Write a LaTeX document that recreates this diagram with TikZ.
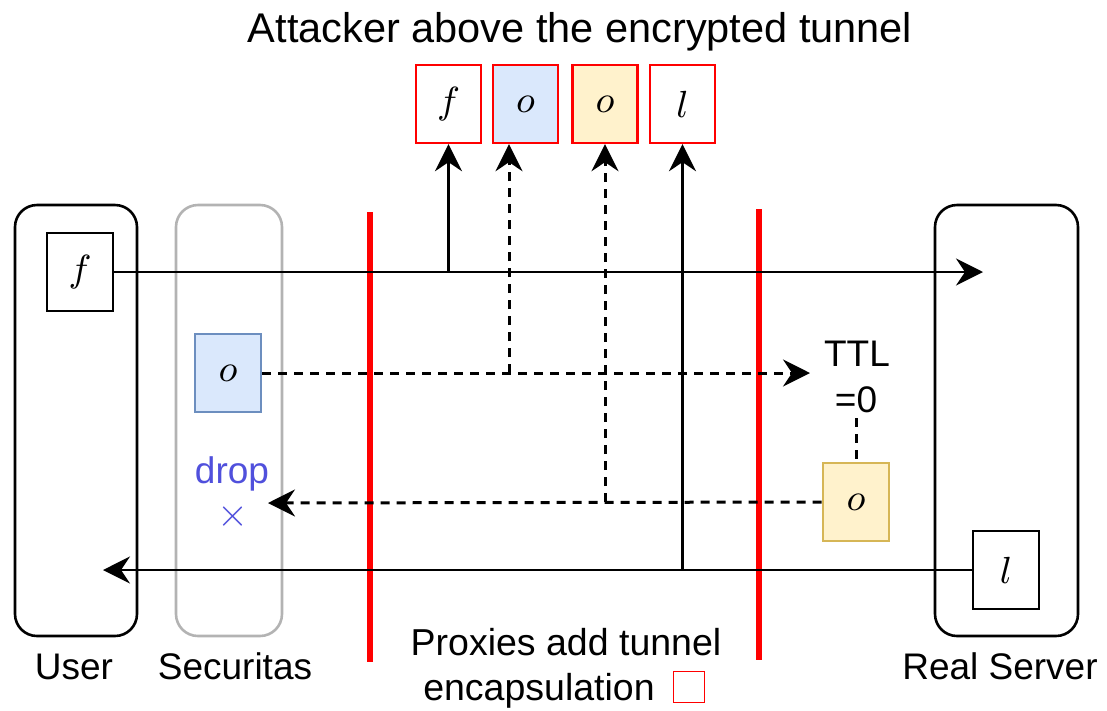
\documentclass[tikz,border=0pt]{standalone}
\usepackage{graphicx}
\usepackage{fontspec}
\setmainfont{Liberation Sans}
\usetikzlibrary{arrows.meta}
\definecolor{blueFill}{HTML}{DAE8FC}
\definecolor{blueLine}{HTML}{6C8EBF}
\definecolor{yelFill}{HTML}{FFF2CC}
\definecolor{yelLine}{HTML}{D6B656}
\definecolor{grayLine}{HTML}{B3B3B3}
\definecolor{dropBlue}{HTML}{5050DC}
\definecolor{tunRed}{HTML}{FF0000}
\newcommand{\pkm}[1]{\scalebox{4.2}{$#1$}}
\tikzset{
  lbl/.style={font=\fontsize{37}{44}\selectfont, anchor=base, inner sep=0pt},
  pkt/.style={draw=black, line width=2.6pt, minimum width=66pt, minimum height=78pt, inner sep=0pt, fill=white, font=\fontsize{9}{11}\selectfont},
  tpkt/.style={pkt, draw=tunRed, line width=2.4pt, minimum width=65pt},
  hostbox/.style={draw=black, line width=2.6pt, rounded corners=22pt},
  conn/.style={line width=2.6pt, -{Stealth[length=27pt,width=27pt,inset=9pt]}},
  plain/.style={line width=2.6pt},
  dsh/.style={dash pattern=on 9pt off 7pt, line width=3pt},
  tunnel/.style={draw=tunRed, line width=5.5pt}
}
\begin{document}
\begin{tikzpicture}[x=1pt,y=-1pt]
\useasboundingbox (0,0) rectangle (1107,710);
% host boxes
\draw[hostbox] (15,205) rectangle (137,636);
\draw[hostbox, draw=grayLine] (176,205) rectangle (282,636);
\draw[hostbox] (935,205) rectangle (1078,636);
% tunnel boundaries
\draw[tunnel] (370,212) -- (370,662);
\draw[tunnel] (759,209) -- (759,660);
% title
\node[lbl, font=\fontsize{41.5}{48}\selectfont] (title) at (580,42) {Attacker above the encrypted tunnel};
% packets
\node[pkt] (uf) at (80,272) {\pkm{f}};
\node[pkt, fill=blueFill, draw=blueLine] (so) at (228,373) {\pkm{o}};
\node[pkt, fill=yelFill, draw=yelLine] (yo) at (856,502) {\pkm{o}};
\node[pkt] (sl) at (1006,570) {\pkm{l}};
\node[tpkt] (tf) at (448.5,104) {\pkm{f}};
\node[tpkt, fill=blueFill] (tbo) at (525.5,104) {\pkm{o}};
\node[tpkt, fill=yelFill] (tyo) at (605,104) {\pkm{o}};
\node[tpkt] (tl) at (682.5,104) {\pkm{l}};
% texts
\node[lbl] (user) at (74,679) {User};
\node[lbl] (sec) at (235,679) {Securitas};
\node[lbl] (srv) at (1000,679) {Real Server};
\node[lbl] (ttl1) at (857,366) {TTL};
\node[lbl] (ttl2) at (856,412) {=0};
\node[lbl, text=dropBlue] (drop) at (232,483) {drop};
\node[text=dropBlue, inner sep=0pt, font=\fontsize{24.88}{30}\selectfont] (cross) at (233,517) {\scalebox{1.6}{$\times$}};
\node[lbl, font=\fontsize{37.5}{44}\selectfont] (prox1) at (566,655) {Proxies add tunnel};
\node[lbl, font=\fontsize{37.5}{44}\selectfont] (prox2) at (539,700) {encapsulation};
\node[draw=tunRed, line width=1.3pt, minimum width=31pt, minimum height=31pt, inner sep=0pt] (sq) at (689,687) {};
% coordinates
\coordinate (fend) at (983,272);
\coordinate (oend) at (810,373);
\coordinate (yend) at (268,503);
\coordinate (lend) at (103,570);
\coordinate (bup) at ([xshift=-16.5pt]tbo.south);
\coordinate (ttlb) at (856,418);
% connectors
\draw[conn] (uf.east) -- (fend);
\draw[conn] (uf.east -| tf.south) -- (tf.south);
\draw[conn, dsh] (so.east) -- (oend);
\draw[conn, dsh] (so.east -| bup) -- (bup);
\draw[conn, dsh] (yo.west) -- (yend);
\draw[conn, dsh] (yo.west -| tyo.south) -- (tyo.south);
\draw[conn] (sl.west) -- (lend);
\draw[conn] (sl.west -| tl.south) -- (tl.south);
\draw[plain, dsh] (ttlb) -- (yo.north);
\end{tikzpicture}
\end{document}
